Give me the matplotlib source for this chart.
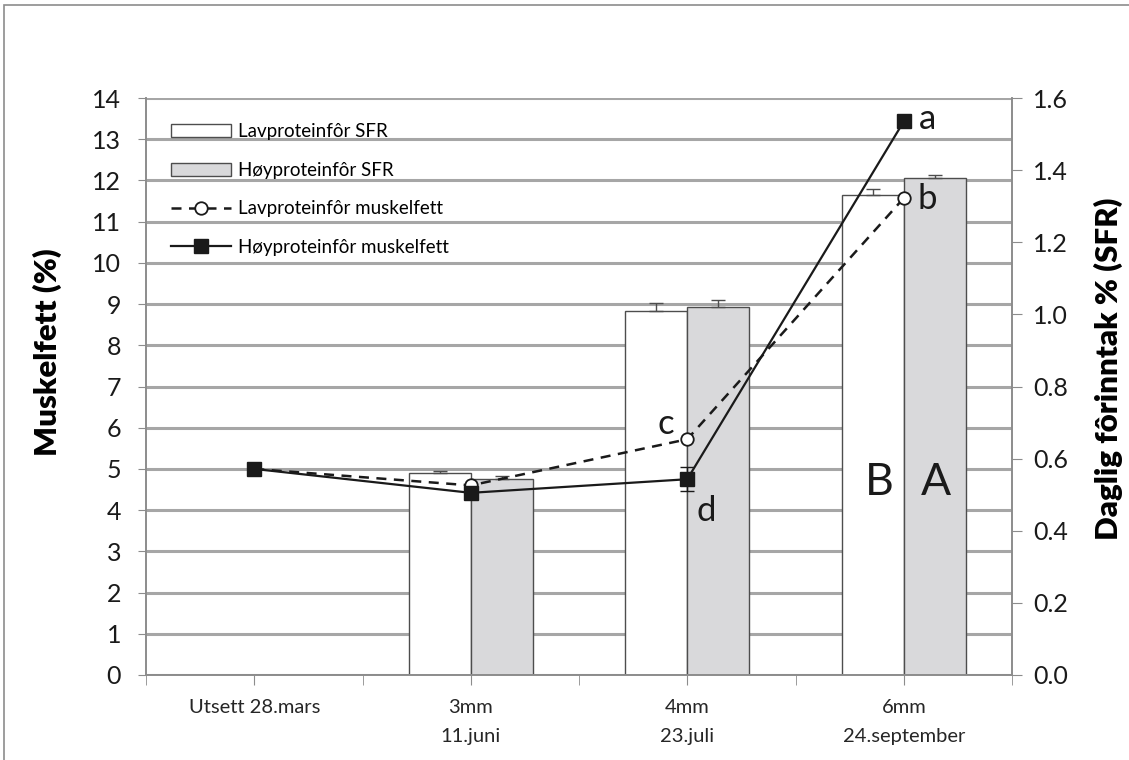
import numpy as np
import matplotlib
matplotlib.use("Agg")
import matplotlib.pyplot as plt
from matplotlib.patches import Rectangle
from matplotlib.transforms import blended_transform_factory

plt.rcParams["font.family"] = ["Lato", "DejaVu Sans"]

# categories (sampling points)
categories = ["Utsett 28.mars", "3mm\n11.juni", "4mm\n23.juli", "6mm\n24.september"]

# daily feed intake, % (SFR) -- right axis
sfr_low = [np.nan, 0.561, 1.010, 1.330]
sfr_low_err = [0.0, 0.004, 0.022, 0.019]
sfr_high = [np.nan, 0.543, 1.021, 1.379]
sfr_high_err = [0.0, 0.008, 0.020, 0.007]

# muscle fat, % -- left axis
fat_low = [5.0, 4.60, 5.72, 11.57]
fat_high = [5.0, 4.42, 4.75, 13.43]
fat_high_err = [0.0, 0.0, 0.29, 0.0]

# significance letters (x, y in left-axis units)
letters = [("a", 3.11, 13.5, 25), ("b", 3.11, 11.55, 25),
           ("c", 1.90, 6.1, 25), ("d", 2.09, 3.98, 25),
           ("B", 2.885, 4.68, 32), ("A", 3.15, 4.68, 32)]

fig = plt.figure(figsize=(11.29, 7.6), dpi=100)
fig.patches.append(Rectangle((4 / 1129, -0.05), 1.2, 1 - 5 / 760 + 0.05,
                             transform=fig.transFigure, fill=False,
                             edgecolor="#8c8c8c", linewidth=1.2))

ax = fig.add_axes([146 / 1129, 1 - 675 / 760, (1012 - 146) / 1129, (675 - 98) / 760])
ax2 = ax.twinx()
ax.set_zorder(ax2.get_zorder() + 1)
ax.patch.set_visible(False)

x = np.arange(len(categories))
w = 0.286

ax.set_xlim(-0.5, 3.5)
ax.set_ylim(0, 14)
ax2.set_ylim(0, 1.6)

# horizontal grid, kept behind the bars
gtrans = blended_transform_factory(ax2.transAxes, ax.transData)
for gy in range(0, 15):
    ax2.plot([0, 1], [gy, gy], transform=gtrans, color="#a6a6a6",
             linewidth=2.2, zorder=0.5, solid_capstyle="butt")

bar_low = ax2.bar(x - w / 2, sfr_low, width=w, color="white", edgecolor="#4d4d4d",
                  linewidth=1.0, zorder=2, label="Lavproteinfôr SFR")
bar_high = ax2.bar(x + w / 2, sfr_high, width=w, color="#d9d9db", edgecolor="#4d4d4d",
                   linewidth=1.0, zorder=2, label="Høyproteinfôr SFR")
ax2.errorbar(x - w / 2, sfr_low, yerr=[np.zeros(4), sfr_low_err], fmt="none",
             ecolor="#4d4d4d", elinewidth=1, capsize=5, zorder=3)
ax2.errorbar(x + w / 2, sfr_high, yerr=[np.zeros(4), sfr_high_err], fmt="none",
             ecolor="#4d4d4d", elinewidth=1, capsize=5, zorder=3)

ln_low, = ax.plot(x, fat_low, linestyle=(0, (4, 3)), color="#1a1a1a", linewidth=1.8,
                  marker="o", markersize=9, markerfacecolor="white",
                  markeredgecolor="#1a1a1a", markeredgewidth=1.3,
                  label="Lavproteinfôr muskelfett", zorder=4)
ax.errorbar(x, fat_high, yerr=fat_high_err, fmt="none", ecolor="#1a1a1a",
            elinewidth=1, capsize=5, zorder=4)
ln_high, = ax.plot(x, fat_high, linestyle="-", color="#1a1a1a", linewidth=1.6,
                   marker="s", markersize=10, markerfacecolor="#1a1a1a",
                   markeredgecolor="#1a1a1a", label="Høyproteinfôr muskelfett", zorder=5)

for txt, lx, ly, fs in letters:
    ax.text(lx, ly, txt, fontsize=fs, ha="center", va="center", color="#1a1a1a", zorder=6)

# axes styling
ax.set_xticks(x)
ax.set_xticklabels(categories, fontsize=14.5, linespacing=1.85, color="#262626")
ax.set_xticks(np.arange(-0.5, 3.6, 1.0), minor=True)
ax.tick_params(axis="x", which="both", direction="out", length=7, color="#8c8c8c", pad=10)
ax.set_yticks(range(0, 15))
ax.tick_params(axis="y", direction="out", length=6, color="#8c8c8c", labelsize=18,
               labelcolor="#1a1a1a", pad=12)
ax2.set_yticks(np.arange(0, 1.61, 0.2))
ax2.set_yticklabels([f"{v:.1f}" for v in np.arange(0, 1.61, 0.2)])
ax2.tick_params(axis="y", direction="out", length=7, color="#8c8c8c", labelsize=18,
                labelcolor="#1a1a1a", pad=8)

for a in (ax, ax2):
    a.spines["top"].set_visible(False)
    for s in ("left", "right", "bottom"):
        a.spines[s].set_color("#8c8c8c")
        a.spines[s].set_linewidth(1.2)

ax.set_ylabel("Muskelfett (%)", fontsize=22.5, fontweight="heavy")
ax2.set_ylabel("Daglig fôrinntak % (SFR)", fontsize=22.5, fontweight="heavy")
ax.yaxis.set_label_coords(-0.097, 0.56)
ax2.yaxis.set_label_coords(1.094, 0.53)

ax.legend([bar_low, bar_high, ln_low, ln_high],
          [h.get_label() for h in (bar_low, bar_high, ln_low, ln_high)],
          loc="upper left", bbox_to_anchor=(0.0, 1.0), frameon=False, fontsize=13.5,
          handlelength=3.2, handletextpad=0.35, labelspacing=1.15, borderpad=0.75,
          borderaxespad=0.6)

fig.savefig("out.png", dpi=100)
